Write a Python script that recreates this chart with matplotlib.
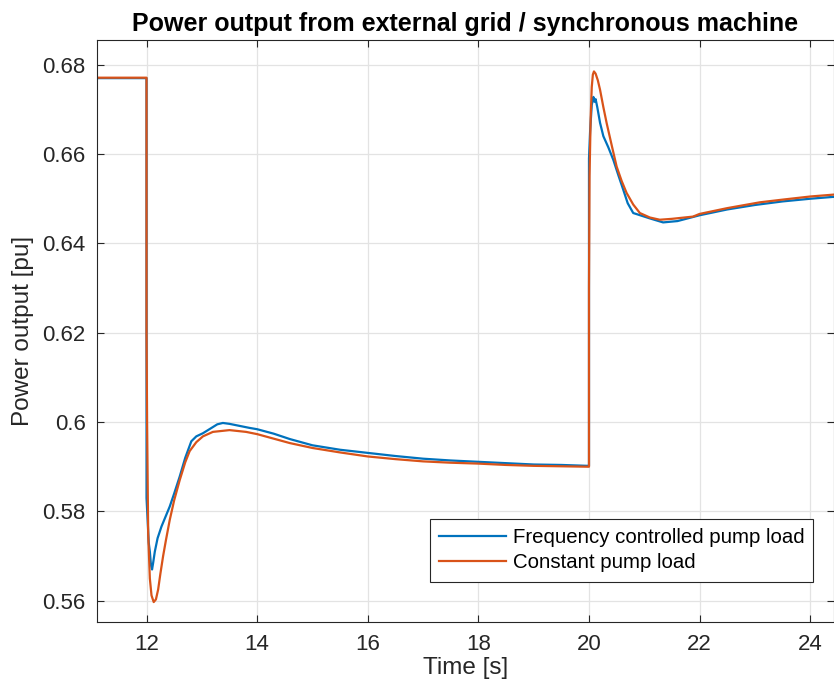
import matplotlib

matplotlib.use("Agg")
import matplotlib.pyplot as plt

plt.rcParams["font.family"] = ["Liberation Sans", "DejaVu Sans"]

# MATLAB default line colours
BLUE = "#0072BD"
ORANGE = "#D95319"

# Frequency controlled pump load
t_freq = [11.1, 12.0, 12.0, 12.02, 12.04, 12.06, 12.08, 12.1, 12.12, 12.15, 12.2,
          12.27, 12.35, 12.42, 12.5, 12.6, 12.7, 12.81, 12.9, 13.02, 13.15, 13.28,
          13.38, 13.5, 13.7, 13.86, 14.0, 14.3, 14.59, 15.0, 15.5, 16.0, 16.5, 17.0,
          17.5, 18.0, 18.5, 19.0, 19.5, 19.98, 20.0, 20.0, 20.02, 20.03, 20.05,
          20.08, 20.1, 20.12, 20.15, 20.2, 20.26, 20.35, 20.44, 20.53, 20.62, 20.7,
          20.8, 20.95, 21.1, 21.34, 21.6, 22.0, 22.5, 23.0, 23.5, 24.0, 24.5]
p_freq = [0.6770, 0.6770, 0.5830, 0.5780, 0.5730, 0.5710, 0.5680, 0.5670, 0.5685,
          0.5710, 0.5740, 0.5766, 0.5790, 0.5811, 0.5840, 0.5878, 0.5920, 0.5957,
          0.5968, 0.5975, 0.5985, 0.5995, 0.5998, 0.5996, 0.5991, 0.5987, 0.5984,
          0.5974, 0.5962, 0.5948, 0.5938, 0.5931, 0.5924, 0.5918, 0.5914, 0.5911,
          0.5908, 0.5905, 0.5904, 0.5902, 0.5902, 0.6590, 0.6650, 0.6670, 0.6710,
          0.6728, 0.6717, 0.6723, 0.6705, 0.6670, 0.6640, 0.6615, 0.6587, 0.6553,
          0.6520, 0.6490, 0.6468, 0.6462, 0.6456, 0.6447, 0.6450, 0.6463, 0.6476,
          0.6486, 0.6494, 0.6500, 0.6505]

# Constant pump load
t_const = [11.1, 12.0, 12.0, 12.01, 12.03, 12.06, 12.09, 12.13, 12.17, 12.21, 12.25,
           12.3, 12.35, 12.42, 12.5, 12.6, 12.7, 12.78, 12.9, 13.02, 13.2, 13.5,
           13.8, 14.0, 14.59, 15.0, 15.5, 16.0, 16.5, 17.0, 17.5, 18.0, 18.5, 19.0,
           19.5, 20.0, 20.0, 20.01, 20.03, 20.05, 20.07, 20.09, 20.12, 20.16, 20.2,
           20.26, 20.32, 20.41, 20.5, 20.59, 20.68, 20.8, 20.92, 21.1, 21.28, 21.5,
           21.88, 22.0, 22.5, 23.09, 23.5, 24.0, 24.5]
p_const = [0.6771, 0.6771, 0.6200, 0.6000, 0.5750, 0.5650, 0.5612, 0.5597, 0.5603,
           0.5625, 0.5660, 0.5700, 0.5735, 0.5781, 0.5825, 0.5870, 0.5910, 0.5935,
           0.5955, 0.5968, 0.5978, 0.5982, 0.5978, 0.5973, 0.5953, 0.5942, 0.5932,
           0.5923, 0.5917, 0.5912, 0.5909, 0.5907, 0.5904, 0.5902, 0.5901, 0.5900,
           0.6300, 0.6550, 0.6680, 0.6750, 0.6778, 0.6785, 0.6780, 0.6765, 0.6744,
           0.6705, 0.6669, 0.6620, 0.6572, 0.6540, 0.6513, 0.6487, 0.6468, 0.6458,
           0.6453, 0.6455, 0.6460, 0.6466, 0.6479, 0.6492, 0.6498, 0.6505, 0.6510]

x_ticks = [12, 14, 16, 18, 20, 22, 24]
y_ticks = [0.56, 0.58, 0.60, 0.62, 0.64, 0.66, 0.68]
y_labels = ["0.56", "0.58", "0.6", "0.62", "0.64", "0.66", "0.68"]

fig = plt.figure(figsize=(8.34, 6.97), dpi=100)
ax = fig.add_axes([0.116, 0.108, 0.884, 0.835])

ax.plot(t_freq, p_freq, color=BLUE, lw=1.6, label="Frequency controlled pump load")
ax.plot(t_const, p_const, color=ORANGE, lw=1.6, label="Constant pump load")

ax.set_xlim(11.1, 24.43)
ax.set_ylim(0.5553, 0.6856)
ax.set_xticks(x_ticks)
ax.set_yticks(y_ticks)
ax.set_yticklabels(y_labels)

ax.grid(True, color="#e3e3e3", lw=0.9)
ax.set_axisbelow(True)
ax.tick_params(direction="in", top=True, right=True, length=5, width=0.8,
               colors="#262626", labelsize=16)
ax.tick_params(axis="x", pad=9)
ax.tick_params(axis="y", pad=8)
for sp in ax.spines.values():
    sp.set_color("#262626")
    sp.set_linewidth(0.8)

ax.set_xlabel("Time [s]", fontsize=17.5, color="#262626", labelpad=1)
ax.set_ylabel("Power output [pu]", fontsize=17.5, color="#262626", labelpad=6)
ax.set_title("Power output from external grid / synchronous machine",
             fontsize=18, fontweight="bold", color="black", pad=6)

leg = ax.legend(loc="lower right", bbox_to_anchor=(0.972, 0.069), fontsize=14.7,
                handlelength=3.3, handletextpad=0.3, borderpad=0.45,
                labelspacing=0.3, borderaxespad=0, fancybox=False, framealpha=1.0)
leg.get_frame().set_edgecolor("#262626")
leg.get_frame().set_linewidth(0.8)

fig.savefig("out.png", dpi=100)
